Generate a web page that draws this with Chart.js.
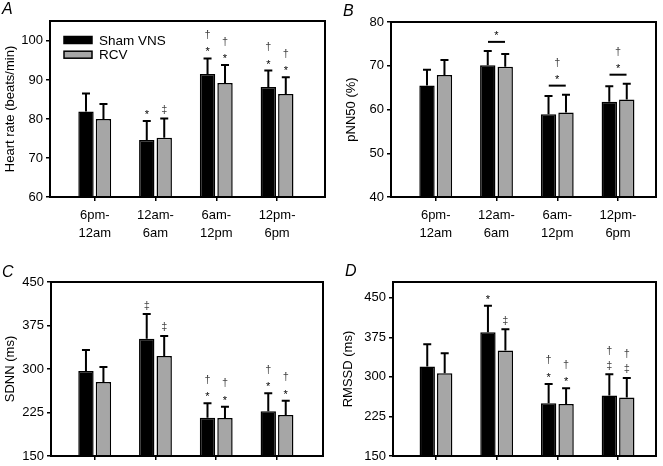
<!DOCTYPE html>
<html>
<head>
<meta charset="utf-8">
<script src="https://cdn.jsdelivr.net/npm/chart.js@4"></script>
<style>
  html, body { margin: 0; padding: 0; background: #fff; overflow: hidden; }
  body { width: 663px; height: 466px; position: relative; }
  canvas { position: absolute; }
  .letter { position: absolute; font: italic 16px "Liberation Sans", Arial, sans-serif; line-height: 1; color: #000; }
</style>
</head>
<body>
<canvas id="chartA" width="331" height="250" style="left:0;top:0"></canvas>
<canvas id="chartB" width="332" height="250" style="left:331px;top:0"></canvas>
<canvas id="chartC" width="331" height="260" style="left:0;top:233px"></canvas>
<canvas id="chartD" width="332" height="260" style="left:331px;top:233px"></canvas>
<div class="letter" style="left:2px;top:1px">A</div>
<div class="letter" style="left:343px;top:3px">B</div>
<div class="letter" style="left:2px;top:264px">C</div>
<div class="letter" style="left:345px;top:263px">D</div>

<script>
const FONT = '"Liberation Sans", Arial, sans-serif';

// time-of-day groups
const categories = [['6pm-', '12am'], ['12am-', '6am'], ['6am-', '12pm'], ['12pm-', '6pm']];
const seriesNames = ['Sham VNS', 'RCV'];

// A: heart rate (beats/min)
const hrSham = [81.9, 74.6, 91.5, 88.2];
const hrShamErr = [4.6, 4.9, 4.0, 4.2];
const hrRcv = [80.0, 75.2, 89.2, 86.4];
const hrRcvErr = [3.8, 4.9, 4.6, 4.3];
const hrTicks = [60, 70, 80, 90, 100];
const hrShamMarks = [[], ['*'], ['*', '†'], ['*', '†']];
const hrRcvMarks = [[], ['‡'], ['*', '†'], ['*', '†']];

// B: pNN50 (%)
const pnnSham = [65.5, 70.1, 58.9, 61.8];
const pnnShamErr = [3.6, 3.3, 4.2, 3.5];
const pnnRcv = [67.9, 69.8, 59.3, 62.3];
const pnnRcvErr = [3.4, 2.9, 4.1, 3.6];
const pnnTicks = [40, 50, 60, 70, 80];
const pnnGroupMarks = [[], ['*'], ['*', '†'], ['*', '†']];

// C: SDNN (ms)
const sdnnSham = [296.6, 352.3, 216.1, 227.0];
const sdnnShamErr = [36.2, 42.5, 24.7, 31.0];
const sdnnRcv = [277.6, 322.4, 215.5, 220.7];
const sdnnRcvErr = [25.8, 34.5, 19.6, 24.7];
const msTicks = [150, 225, 300, 375, 450];
const sdnnShamMarks = [[], ['‡'], ['*', '†'], ['*', '†']];
const sdnnRcvMarks = [[], ['‡'], ['*', '†'], ['*', '†']];

// D: RMSSD (ms)
const rmssdSham = [319.6, 384.8, 250.0, 264.6];
const rmssdShamErr = [42.4, 50.0, 36.7, 40.4];
const rmssdRcv = [307.0, 350.0, 248.7, 260.8];
const rmssdRcvErr = [38.0, 40.5, 29.8, 37.2];
const rmssdShamMarks = [[], ['*'], ['*', '†'], ['‡', '†']];
const rmssdRcvMarks = [[], ['‡'], ['*', '†'], ['‡', '†']];

function toXY(vals) {
  return vals.map((v, i) => ({ x: i, y: v }));
}

function drawMarks(ctx, x, yStart, marks) {
  ctx.font = '11px ' + FONT;
  ctx.textAlign = 'center';
  ctx.textBaseline = 'alphabetic';
  let cy = yStart;
  marks.forEach(sym => {
    const m = ctx.measureText(sym);
    ctx.fillStyle = sym === '*' ? '#000' : '#444';
    ctx.fillText(sym, x, cy + (m.actualBoundingBoxAscent - m.actualBoundingBoxDescent) / 2);
    cy -= 15;
  });
}

// box round the plot area
const frame = {
  id: 'frame',
  afterDraw(chart) {
    const { ctx, chartArea: a } = chart;
    ctx.save();
    ctx.strokeStyle = '#000';
    ctx.lineWidth = 2;
    ctx.strokeRect(a.left, a.top, a.right - a.left, a.bottom - a.top);
    ctx.restore();
  }
};

// upward SD bars plus significance symbols
const errorBars = {
  id: 'errorBars',
  afterDatasetsDraw(chart) {
    const ctx = chart.ctx;
    const y = chart.scales.y;
    const groups = chart.options.groupMarks;
    const tops = [];
    ctx.save();
    chart.data.datasets.forEach((ds, di) => {
      chart.getDatasetMeta(di).data.forEach((bar, i) => {
        const top = y.getPixelForValue(ds.data[i].y + ds.err[i]);
        tops[i] = Math.min(tops[i] ?? Infinity, top);
        ctx.strokeStyle = '#000';
        ctx.lineWidth = 2;
        ctx.beginPath();
        ctx.moveTo(bar.x, bar.y);
        ctx.lineTo(bar.x, top);
        ctx.moveTo(bar.x - 4, top);
        ctx.lineTo(bar.x + 4, top);
        ctx.stroke();
        if (ds.marks && ds.marks[i].length) drawMarks(ctx, bar.x, top - 9, ds.marks[i]);
      });
    });
    if (groups) {
      const m0 = chart.getDatasetMeta(0).data, m1 = chart.getDatasetMeta(1).data;
      groups.forEach((marks, i) => {
        if (!marks.length) return;
        const cx = (m0[i].x + m1[i].x) / 2;
        const ly = tops[i] - 9;
        ctx.strokeStyle = '#000';
        ctx.lineWidth = 2;
        ctx.beginPath();
        ctx.moveTo(cx - 8.5, ly);
        ctx.lineTo(cx + 8.5, ly);
        ctx.stroke();
        drawMarks(ctx, cx, ly - 8.5, marks);
      });
    }
    ctx.restore();
  }
};

// legend inside panel A
const insideLegend = {
  id: 'insideLegend',
  afterDraw(chart) {
    if (!chart.options.showInsideLegend) return;
    const { ctx, chartArea: a } = chart;
    ctx.save();
    chart.data.datasets.forEach((ds, i) => {
      const y = a.top + 19 + i * 14.7;
      ctx.fillStyle = ds.backgroundColor;
      ctx.fillRect(a.left + 14, y - 3.5, 28, 7);
      ctx.strokeStyle = '#000';
      ctx.lineWidth = 1.5;
      ctx.strokeRect(a.left + 14, y - 3.5, 28, 7);
      ctx.fillStyle = '#000';
      ctx.font = '13.5px ' + FONT;
      ctx.textAlign = 'left';
      ctx.textBaseline = 'middle';
      ctx.fillText(ds.label, a.left + 49, y + 1);
    });
    ctx.restore();
  }
};

function makePanel(id, p) {
  const canvas = document.getElementById(id);
  const W = canvas.width, H = canvas.height;
  const font = { family: FONT, size: 13 };
  return new Chart(canvas, {
    type: 'bar',
    data: {
      datasets: [
        { label: seriesNames[0], data: toXY(p.sham), err: p.shamErr, marks: p.shamMarks,
          backgroundColor: '#000', borderColor: '#000', borderWidth: 1.5 },
        { label: seriesNames[1], data: toXY(p.rcv), err: p.rcvErr, marks: p.rcvMarks,
          backgroundColor: '#a6a6a6', borderColor: '#000', borderWidth: 1.5 }
      ]
    },
    options: {
      responsive: false,
      animation: false,
      groupMarks: p.groupMarks,
      showInsideLegend: p.legend,
      layout: { padding: { top: p.area[1], right: W - p.area[2], left: 0, bottom: 0 } },
      datasets: { bar: { categoryPercentage: 0.575, barPercentage: 0.88, borderSkipped: 'start' } },
      plugins: { legend: { display: false }, tooltip: { enabled: false } },
      scales: {
        x: {
          type: 'linear', min: p.xRange[0], max: p.xRange[1], offset: false,
          afterBuildTicks: s => { s.ticks = categories.map((c, i) => ({ value: i })); },
          afterFit: s => { s.height = H - p.area[3]; },
          grid: { offset: false, drawOnChartArea: false, tickLength: 4, color: '#000', lineWidth: 1.5 },
          border: { display: false },
          ticks: { callback: v => categories[v], color: '#000', font: { ...font, lineHeight: 1.4 },
                   padding: 5, maxRotation: 0, autoSkip: false }
        },
        y: {
          min: p.yRange[0], max: p.yRange[1],
          afterBuildTicks: s => { s.ticks = p.yTicks.map(v => ({ value: v })); },
          afterFit: s => { s.width = p.area[0]; },
          grid: { drawOnChartArea: false, tickLength: 4, color: '#000', lineWidth: 1.5 },
          border: { display: false },
          ticks: { color: '#000', font, padding: 3 },
          title: { display: true, text: p.yTitle, color: '#000', font, padding: { top: p.titlePad, bottom: 0 } }
        }
      }
    },
    plugins: [errorBars, frame, insideLegend]
  });
}

makePanel('chartA', {
  sham: hrSham, shamErr: hrShamErr, rcv: hrRcv, rcvErr: hrRcvErr,
  shamMarks: hrShamMarks, rcvMarks: hrRcvMarks, legend: true,
  yRange: [60, 105.1], yTicks: hrTicks, yTitle: 'Heart rate (beats/min)',
  xRange: [-0.736, 3.789], area: [50, 21, 325, 197], titlePad: 3
});
makePanel('chartB', {
  sham: pnnSham, shamErr: pnnShamErr, rcv: pnnRcv, rcvErr: pnnRcvErr,
  groupMarks: pnnGroupMarks,
  yRange: [40, 80], yTicks: pnnTicks, yTitle: 'pNN50 (%)',
  xRange: [-0.736, 3.625], area: [60, 22, 325, 197], titlePad: 13
});
makePanel('chartC', {
  sham: sdnnSham, shamErr: sdnnShamErr, rcv: sdnnRcv, rcvErr: sdnnRcvErr,
  shamMarks: sdnnShamMarks, rcvMarks: sdnnRcvMarks,
  yRange: [150, 450], yTicks: msTicks, yTitle: 'SDNN (ms)',
  xRange: [-0.719, 3.757], area: [51, 49, 323, 223], titlePad: 3
});
makePanel('chartD', {
  sham: rmssdSham, shamErr: rmssdShamErr, rcv: rmssdRcv, rcvErr: rmssdRcvErr,
  shamMarks: rmssdShamMarks, rcvMarks: rmssdRcvMarks,
  yRange: [150, 480], yTicks: msTicks, yTitle: 'RMSSD (ms)',
  xRange: [-0.708, 3.625], area: [62, 49, 325, 223], titlePad: 10
});
</script>
</body>
</html>
